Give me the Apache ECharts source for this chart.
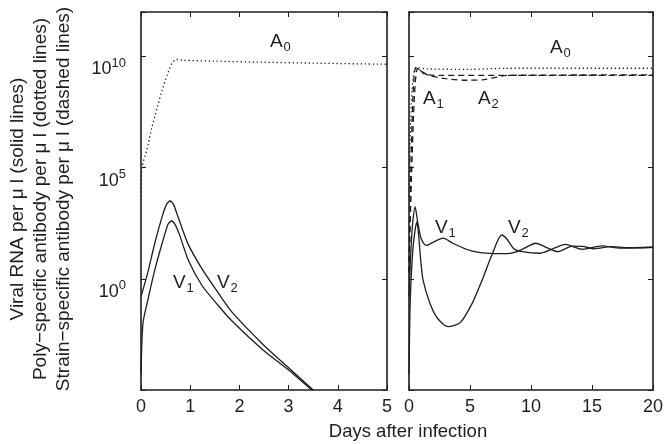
<!DOCTYPE html>
<html><head><meta charset="utf-8">
<script src="https://cdn.jsdelivr.net/npm/echarts@6/dist/echarts.min.js"></script>
<style>html,body{margin:0;padding:0;background:#fff}#c{width:666px;height:444px}</style>
</head><body><div id="c"></div>
<script>
// ---- data (y values are log10 of the quantity) ----
const leftXTicks = [0, 1, 2, 3, 4, 5];
const rightXTicks = [0, 5, 10, 15, 20];
const yTickExponents = [0, 5, 10];
const xTitle = 'Days after infection';
const yTitleLines = ['Viral RNA per μ l (solid lines)', 'Poly−specific antibody per μ l (dotted lines)', 'Strain−specific antibody per μ l (dashed lines)'];

// left panel (0-5 days)
const leftA0 = [[0,3.7],[0.02,5.0],[0.12,5.8],[0.22,6.8],[0.33,7.7],[0.43,8.5],[0.53,9.15],[0.63,9.7],[0.72,9.87],[0.85,9.83],[1.5,9.79],[2.5,9.74],[3.5,9.7],[5,9.65]];
const leftV1 = [[0,-0.8],[0.14,0.3],[0.28,1.6],[0.43,2.8],[0.52,3.35],[0.59,3.5],[0.66,3.35],[0.75,2.8],[0.96,1.55],[1.24,0.45],[1.57,-0.63],[1.85,-1.5],[2.48,-2.95],[3.0,-4.0],[3.5,-5.0]];
const leftV2 = [[0,-4.3],[0.04,-2.0],[0.14,-0.95],[0.28,0.4],[0.43,1.6],[0.55,2.45],[0.62,2.6],[0.69,2.45],[0.78,2.0],[0.96,0.85],[1.24,-0.3],[1.57,-1.2],[1.85,-1.9],[2.48,-3.2],[3.0,-4.1],[3.47,-5.0]];

// right panel (0-20 days)
const rightA0 = [[0,3.7],[0.1,6.5],[0.25,8.5],[0.45,9.4],[0.7,9.5],[1.5,9.44],[5,9.42],[8,9.47],[20,9.47]];
const rightA1 = [[0,0.3],[0.15,5],[0.35,8.5],[0.55,9.5],[0.8,9.45],[1.3,9.2],[2.5,9.15],[20,9.15]];
const rightA2 = [[0,0.3],[0.2,4.5],[0.45,8.3],[0.7,9.45],[1.0,9.35],[1.6,9.15],[3,9.0],[4.5,8.93],[6,8.95],[7,9.05],[8,9.15],[20,9.17]];
const rightV1 = [[0,-0.8],[0.15,1.2],[0.3,2.5],[0.5,3.23],[0.7,2.6],[1.0,1.8],[1.4,1.5],[2.0,1.65],[2.8,1.83],[3.6,1.6],[4.7,1.33],[5.6,1.2],[6.6,1.14],[7.6,1.13],[8.5,1.17],[9.2,1.3],[10.4,1.6],[11.3,1.4],[12.2,1.22],[13.4,1.47],[14.2,1.46],[15.2,1.35],[16.6,1.45],[18,1.4],[20,1.42]];
const rightV2 = [[0,-4.3],[0.1,-1],[0.3,1.2],[0.5,2.2],[0.65,2.56],[0.8,1.9],[0.95,0.9],[1.15,-0.05],[1.7,-1.08],[2.3,-1.75],[3.2,-2.15],[4.2,-1.97],[5.2,-1.08],[6.0,-0.05],[6.8,1.08],[7.6,1.97],[8.0,1.8],[8.6,1.35],[9.3,1.22],[10.7,1.15],[12.0,1.4],[12.8,1.55],[14.2,1.33],[15.8,1.48],[17.4,1.38],[20,1.42]];

// ---- chart ----
const FONT = '"Liberation Sans", Arial, Helvetica, sans-serif';
const INK = '#1e1e1e';
const chart = echarts.init(document.getElementById('c'), null, {renderer: 'canvas'});

function xAx(grid, min, max, interval, pos, labels) {
  return {
    type: 'value', gridIndex: grid, min, max, interval, position: pos,
    axisLine: {show: true, onZero: false, lineStyle: {color: INK, width: 1.6}},
    axisTick: {show: true, inside: true, length: 5, lineStyle: {color: INK, width: 1}},
    axisLabel: {show: labels, fontSize: 18, fontFamily: FONT, color: INK, margin: 8},
    splitLine: {show: false}
  };
}
function yAx(grid, pos, labels) {
  return {
    type: 'value', gridIndex: grid, min: -5, max: 12, interval: 5, position: pos,
    axisLine: {show: true, onZero: false, lineStyle: {color: INK, width: 1.6}},
    axisTick: {show: true, inside: true, length: 5, lineStyle: {color: INK, width: 1}},
    axisLabel: {
      show: labels, margin: 15, verticalAlign: 'top', fontFamily: FONT, color: INK,
      formatter: v => yTickExponents.indexOf(v) >= 0 ? '{b|10}{s|' + v + '}' : '',
      rich: {
        b: {fontSize: 18, fontFamily: FONT, color: INK, verticalAlign: 'bottom'},
        s: {fontSize: 13, fontFamily: FONT, color: INK, verticalAlign: 'top', padding: [0, 0, 9, 0]}
      }
    },
    splitLine: {show: false}
  };
}
function line(xi, yi, data, type, w) {
  return {
    type: 'line', xAxisIndex: xi, yAxisIndex: yi, data, symbol: 'none', smooth: 0.25, clip: true,
    lineStyle: {color: INK, width: w, type: type}
  };
}
function lab(x, y, main, sub) {
  return [
    {type: 'text', x: x, y: y, style: {text: main, fontSize: 19, fontFamily: FONT, fill: INK, align: 'left', verticalAlign: 'top', textAlign: 'left', textVerticalAlign: 'top'}},
    {type: 'text', x: x + 13.5, y: y + 8, style: {text: sub, fontSize: 13, fontFamily: FONT, fill: INK, align: 'left', verticalAlign: 'top', textAlign: 'left', textVerticalAlign: 'top'}}
  ];
}

const graphics = [].concat(
  lab(270, 32.5, 'A', '0'),
  lab(173, 273.5, 'V', '1'),
  lab(217, 273.5, 'V', '2'),
  lab(550, 38.5, 'A', '0'),
  lab(423, 89.5, 'A', '1'),
  lab(478, 89.5, 'A', '2'),
  lab(435, 218.5, 'V', '1'),
  lab(508, 218.5, 'V', '2'),
  [
    {type: 'text', x: 408, y: 432, style: {text: xTitle, fontSize: 18.5, fontFamily: FONT, fill: INK, align: 'center', verticalAlign: 'middle', textAlign: 'center', textVerticalAlign: 'middle'}},
    {type: 'text', x: 41, y: 199, rotation: Math.PI / 2, style: {text: yTitleLines.join('\n'), fontSize: 19, lineHeight: 23, fontFamily: FONT, fill: INK, align: 'center', verticalAlign: 'middle', textAlign: 'center', textVerticalAlign: 'middle'}}
  ]
);

chart.setOption({
  animation: false,
  backgroundColor: '#fff',
  grid: [
    {left: 141, right: 279, top: 12, bottom: 54, containLabel: false},
    {left: 409, right: 12, top: 12, bottom: 54, containLabel: false}
  ],
  xAxis: [
    xAx(0, leftXTicks[0], leftXTicks[leftXTicks.length - 1], 1, 'bottom', true),
    xAx(0, leftXTicks[0], leftXTicks[leftXTicks.length - 1], 1, 'top', false),
    xAx(1, rightXTicks[0], rightXTicks[rightXTicks.length - 1], 5, 'bottom', true),
    xAx(1, rightXTicks[0], rightXTicks[rightXTicks.length - 1], 5, 'top', false)
  ],
  yAxis: [yAx(0, 'left', true), yAx(0, 'right', false), yAx(1, 'left', false), yAx(1, 'right', false)],
  series: [
    line(0, 0, leftA0, [1.3, 2.7], 1.3),
    line(0, 0, leftV1, 'solid', 1.3),
    line(0, 0, leftV2, 'solid', 1.3),
    line(2, 2, rightA0, [1.3, 2.7], 1.3),
    line(2, 2, rightA1, [6, 4], 1.3),
    line(2, 2, rightA2, [6, 4], 1.3),
    line(2, 2, rightV1, 'solid', 1.3),
    line(2, 2, rightV2, 'solid', 1.3)
  ],
  graphic: graphics
});
</script>
</body></html>
